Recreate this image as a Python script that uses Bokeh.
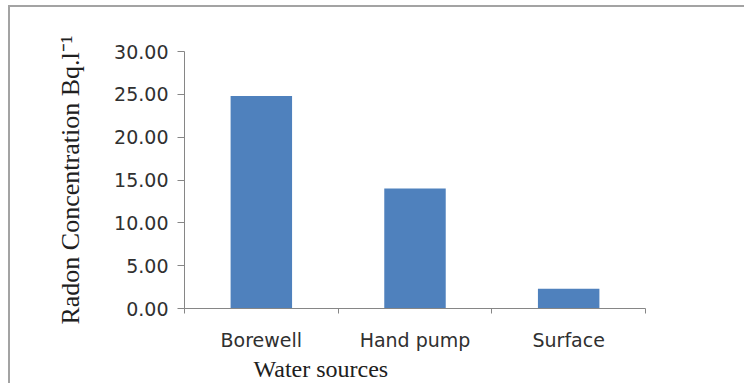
from bokeh.plotting import figure
from bokeh.models import (Range1d, FixedTicker, NumeralTickFormatter, LinearAxis, Title)
from bokeh.embed import file_html
from bokeh.resources import INLINE

categories = ["Borewell", "Hand pump", "Surface"]
radon = [24.8, 14.0, 2.3]
y_ticks = [0, 5, 10, 15, 20, 25, 30]
y_title = "Radon Concentration Bq.l⁻¹"
x_title = "Water sources"

n = len(categories)
centers = [i + 0.5 for i in range(n)]

ML, MT = 10, 7         # offset of the chart box inside the window
W = 746 - ML
H = 385 - MT
FL, FR, FT, FB = 184, 645, 51, 308   # frame edges in page pixels

p = figure(x_range=Range1d(0, n), y_range=Range1d(0, 30), width=W, height=H,
           output_backend="svg", toolbar_location=None, x_axis_location=None,
           min_border_left=FL - ML, min_border_right=746 - FR,
           min_border_top=FT - MT, min_border_bottom=385 - FB)
p.styles = {"margin-left": f"{ML}px", "margin-top": f"{MT}px",
            "margin-bottom": "-30px", "margin-right": "-30px",
            "box-shadow": "-2px -2px 0px 0px #a3a3a3"}
p.vbar(x=centers, top=radon, width=0.40, color="#4F81BD", line_color=None)

p.grid.visible = False
p.outline_line_color = None
p.background_fill_color = "white"
p.border_fill_color = "white"

ya = p.yaxis[0]
ya.ticker = FixedTicker(ticks=y_ticks)
ya.formatter = NumeralTickFormatter(format="0.00")
ya.axis_line_color = "#868686"
ya.major_tick_line_color = "#868686"
ya.major_tick_out = 7
ya.major_tick_in = 0
ya.minor_tick_line_color = None
ya.major_label_text_font = "DejaVu Sans"
ya.major_label_text_font_size = "19px"
ya.major_label_text_color = "#303030"
ya.major_label_standoff = 9
ya.axis_label = y_title
ya.axis_label_text_font = "Liberation Serif"
ya.axis_label_text_font_size = "26px"
ya.axis_label_text_font_style = "normal"
ya.axis_label_text_color = "#202020"
ya.axis_label_standoff = 26

# axis line with category separator ticks
sep_ticks = list(range(n + 1))
sep_axis = LinearAxis(ticker=FixedTicker(ticks=sep_ticks),
                      major_label_overrides={t: "" for t in sep_ticks},
                      axis_line_color="#868686", major_tick_line_color="#868686",
                      major_tick_out=5, major_tick_in=0, minor_tick_line_color=None,
                      major_label_text_font_size="1px", major_label_standoff=0)
p.add_layout(sep_axis, "below")

cat_axis = LinearAxis(ticker=FixedTicker(ticks=centers),
                      major_label_overrides={c: name for c, name in zip(centers, categories)},
                      axis_line_color=None, major_tick_line_color=None,
                      minor_tick_line_color=None,
                      major_label_text_font="DejaVu Sans", major_label_text_font_size="19px",
                      major_label_text_color="#303030", major_label_standoff=9)
p.add_layout(cat_axis, "below")

p.add_layout(Title(text=x_title, align="left", offset=253 - FL,
                   text_font="Liberation Serif", text_font_size="24px",
                   text_font_style="normal", text_color="#202020", standoff=0), "below")

open("out.html", "w").write(file_html(p, INLINE))
